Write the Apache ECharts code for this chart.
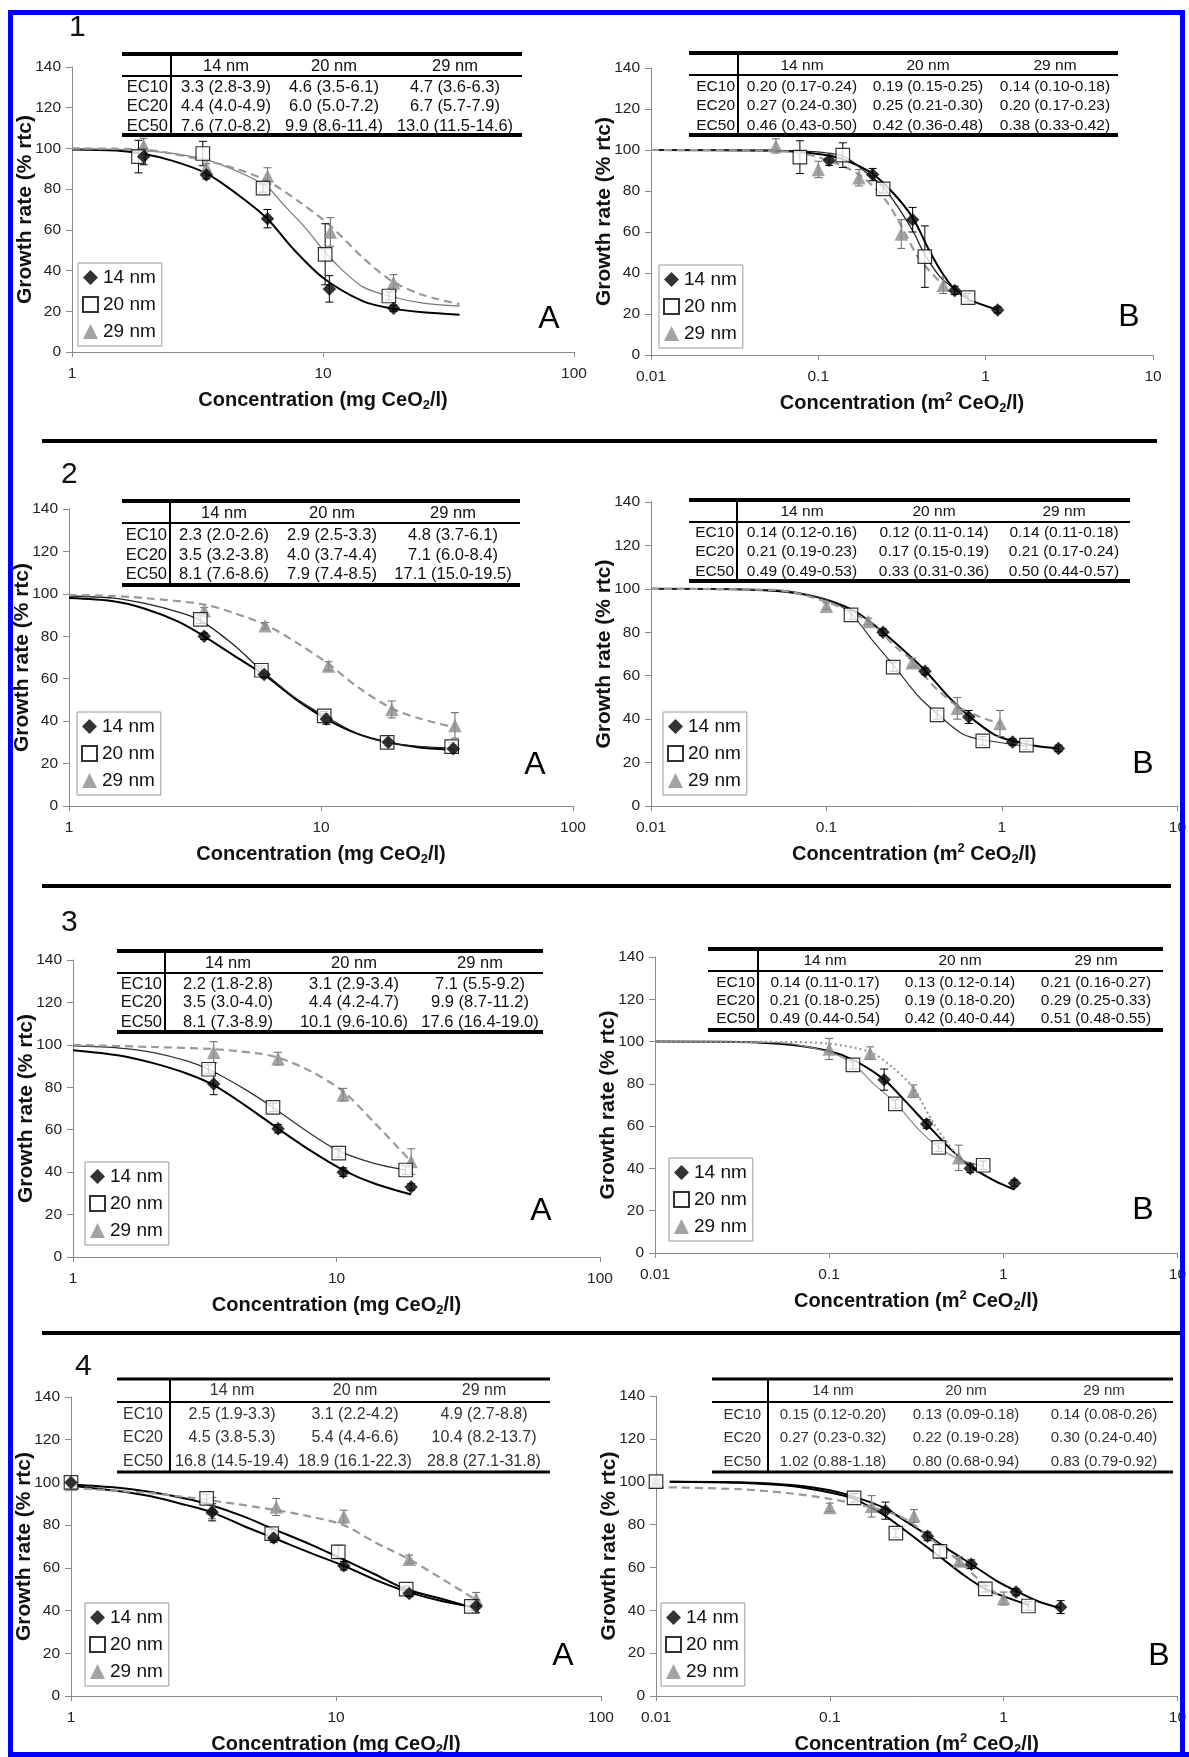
<!DOCTYPE html>
<html>
<head>
<meta charset="utf-8">
<script src="https://cdn.jsdelivr.net/npm/echarts@6.0.0/dist/echarts.min.js"></script>
<style>
html, body { margin: 0; padding: 0; background: #fff; }
#main { width: 1189px; height: 1757px; }
</style>
</head>
<body>
<div id="main"></div>
<script>
var FONT = '"Liberation Sans", Arial, sans-serif';
var sizes = ['14 nm', '20 nm', '29 nm'];
var ecRows = ['EC10', 'EC20', 'EC50'];
var yTitle = 'Growth rate (% rtc)';
var nameMass = 'Concentration (mg CeO{s|2}/l)';
var nameArea = 'Concentration (m{p|2} CeO{s|2}/l)';

// ---- panel 1 (mass / surface) ----
var p1a14 = [[1.93, 96], [3.43, 87], [6.01, 65.5], [10.6, 31], [19.1, 21.5]];
var p1a14e = [4, 2, 4.5, 6.5, 1.5];
var p1a14f = [[1, 99.5], [1.5, 99], [1.9, 97.5], [2.5, 94], [3.4, 88], [4.5, 78], [6, 65.5], [7.5, 51.5], [10, 36.5], [14.4, 25], [19, 21.3], [25, 19.5], [35, 18.3]];
var p1a20 = [[1.84, 96], [3.32, 97.5], [5.77, 80.5], [10.2, 48], [18.3, 27.5]];
var p1a20e = [8, 6, 2, 15, 2];
var p1a20f = [[1, 99.8], [1.9, 99], [3.3, 95], [4.5, 89], [6, 81], [7, 72], [8.5, 61], [10.2, 49], [12, 40], [14.4, 32], [18.3, 27.5], [25, 24], [35, 22.5]];
var p1a29 = [[1.93, 101.5], [3.43, 90.5], [6.01, 86.5], [10.7, 59], [19.1, 34]];
var p1a29e = [3.5, 2, 4, 7, 4];
var p1a29f = [[1, 100], [1.9, 99.5], [3.4, 94], [4.5, 90], [6, 84], [8, 74], [10.7, 62], [14.5, 46], [19, 34.5], [25, 28], [35, 23.5]];

var p1b14 = [[0.116, 95], [0.211, 88], [0.366, 66], [0.653, 31.5], [1.18, 22]];
var p1b14e = [2.5, 3, 6, 2, 1.5];
var p1b14f = [[0.01, 100], [0.05, 99.7], [0.1, 98], [0.14, 95.5], [0.21, 88.5], [0.28, 79], [0.366, 67], [0.46, 51], [0.55, 40], [0.653, 32], [0.8, 27], [1.18, 22]];
var p1b20 = [[0.0776, 96.5], [0.14, 97.5], [0.244, 81], [0.433, 48], [0.785, 28]];
var p1b20e = [8, 6, 2, 15, 2];
var p1b20f = [[0.01, 100], [0.0776, 99.5], [0.14, 97], [0.2, 88], [0.244, 82], [0.3, 72], [0.37, 60], [0.433, 49], [0.55, 37], [0.785, 28.5]];
var p1b29 = [[0.0558, 102], [0.1, 90.5], [0.175, 86.5], [0.313, 59], [0.558, 34]];
var p1b29e = [3.5, 4, 4, 7, 4];
var p1b29f = [[0.01, 100], [0.0558, 99.5], [0.1, 96.5], [0.175, 88], [0.25, 76], [0.313, 63], [0.4, 47], [0.558, 34]];

// ---- panel 2 ----
var p2a14 = [[3.44, 80], [5.95, 62], [10.5, 41], [18.5, 30], [33.5, 27]];
var p2a14e = [1.5, 1.5, 2.5, 1.5, 2];
var p2a14f = [[1, 98], [1.5, 96.5], [2, 93], [2.7, 87], [3.44, 80], [4.5, 71], [6, 61.5], [8, 50], [10.5, 41], [14, 34], [18.5, 30], [25, 27.5], [34, 26.5]];
var p2a20 = [[3.32, 88], [5.8, 64], [10.3, 42.5], [18.3, 30], [33, 28]];
var p2a20e = [2, 2, 2, 2, 2];
var p2a20f = [[1, 99], [1.5, 98], [2, 95.5], [2.7, 91.5], [3.32, 87.5], [4.5, 76], [5.8, 64], [8, 50.5], [10.3, 42.5], [14, 34], [18.3, 30], [25, 28], [33, 27.5]];
var p2a29 = [[3.44, 92], [6.0, 85], [10.7, 66], [19.1, 45.5], [34, 38]];
var p2a29e = [1.5, 1.5, 2, 4, 6];
var p2a29f = [[1, 99.5], [1.5, 99], [2, 98], [3.44, 95], [4.5, 91], [6, 85.5], [8, 77], [10.7, 67], [14, 56], [19.1, 46], [25, 41], [34, 37]];

var p2b14 = [[0.21, 80], [0.364, 62], [0.647, 41], [1.15, 29.5], [2.1, 26.5]];
var p2b14e = [1.5, 1.5, 3, 1.5, 1.5];
var p2b14f = [[0.01, 100], [0.03, 99.8], [0.06, 98.5], [0.1, 95], [0.15, 89], [0.21, 80], [0.3, 69], [0.364, 62.5], [0.5, 50], [0.647, 41.5], [0.9, 33], [1.15, 30], [1.6, 27.5], [2.1, 26.5]];
var p2b20 = [[0.138, 88], [0.24, 64], [0.427, 42], [0.778, 30], [1.38, 28]];
var p2b20e = [2, 2, 2, 2, 2];
var p2b20f = [[0.01, 100], [0.05, 99.5], [0.1, 95], [0.138, 88.5], [0.18, 77], [0.24, 65], [0.33, 51], [0.427, 42.5], [0.6, 33], [0.778, 30.5], [1.38, 27.5]];
var p2b29 = [[0.1, 92], [0.173, 85], [0.308, 66], [0.557, 45], [0.975, 38]];
var p2b29e = [1.5, 1.5, 2, 5, 6];
var p2b29f = [[0.01, 100], [0.05, 99.5], [0.1, 94], [0.173, 85], [0.25, 73], [0.308, 67], [0.4, 56], [0.557, 46], [0.75, 41], [0.975, 38]];

// ---- panel 3 ----
var p3a14 = [[3.42, 81.5], [6.0, 60.5], [10.6, 40], [19.2, 33]];
var p3a14e = [5, 2, 2, 1.5];
var p3a14f = [[1, 97.5], [1.5, 95], [2, 91.5], [2.7, 86.5], [3.42, 81], [4.5, 71.5], [6, 60.5], [8, 50], [10.6, 41], [14, 34.5], [19.2, 29.5]];
var p3a20 = [[3.27, 88.5], [5.74, 70.5], [10.2, 49], [18.3, 41]];
var p3a20e = [2, 2, 2, 2];
var p3a20f = [[1, 99.5], [1.5, 98.5], [2, 96.5], [2.7, 92.5], [3.27, 88.5], [4.5, 79], [5.74, 70.5], [8, 58], [10.2, 50], [14, 44], [18.3, 41]];
var p3a29 = [[3.42, 96.5], [6.0, 93.5], [10.6, 76.5], [19.2, 45]];
var p3a29e = [5, 3, 3, 6];
var p3a29f = [[1, 100], [2, 99], [3.42, 98], [5, 96], [6, 94], [8, 87.5], [10.6, 78], [14, 63], [19.2, 45]];

var p3b14 = [[0.207, 82], [0.363, 61], [0.646, 40], [1.16, 33]];
var p3b14e = [5, 2, 2, 1.5];
var p3b14f = [[0.01, 100], [0.03, 99.8], [0.06, 98.5], [0.1, 95.5], [0.14, 91], [0.207, 82], [0.28, 71], [0.363, 61], [0.5, 49], [0.646, 41], [0.9, 34], [1.16, 30]];
var p3b20 = [[0.137, 89], [0.24, 70.5], [0.426, 50], [0.767, 41.5]];
var p3b20e = [2, 2, 2, 2];
var p3b20f = [[0.01, 100], [0.05, 99.5], [0.1, 95], [0.137, 89.5], [0.18, 80], [0.24, 71], [0.33, 58], [0.426, 50], [0.55, 44.5], [0.767, 41]];
var p3b29 = [[0.1, 96.5], [0.172, 94.5], [0.305, 76.5], [0.555, 45]];
var p3b29e = [5, 3, 3, 6];
var p3b29f = [[0.01, 100], [0.05, 99.8], [0.1, 99], [0.172, 95], [0.23, 88], [0.305, 78], [0.4, 61], [0.555, 45]];

// ---- panel 4 ----
var p4a14 = [[1, 100], [3.41, 86], [5.82, 74], [10.7, 61], [18.9, 48], [33.8, 42]];
var p4a14e = [1, 4, 2, 2, 1.5, 3];
var p4a14f = [[1, 98.5], [1.5, 96], [2, 93.5], [2.7, 89.5], [3.41, 86], [4.5, 79.5], [5.82, 74], [8, 67], [10.7, 61], [14, 54.5], [18.9, 48.5], [25, 44.5], [33.8, 41.5]];
var p4a20 = [[1, 100], [3.25, 92.5], [5.72, 76], [10.2, 67.5], [18.4, 50], [32.4, 42]];
var p4a20e = [1, 2, 2, 3, 1.5, 2];
var p4a20f = [[1, 99], [1.5, 97.5], [2, 95.5], [2.7, 92.5], [3.25, 90], [4.5, 84], [5.72, 78.5], [8, 71], [10.2, 65], [14, 57], [18.4, 50], [25, 45.5], [32.4, 41.5]];
var p4a29 = [[1, 99], [3.41, 88], [5.95, 88.5], [10.7, 84], [18.9, 64], [33.8, 45.5]];
var p4a29e = [1, 5, 4, 3, 2, 3];
var p4a29f = [[1, 97.5], [1.5, 96], [2, 95], [3.41, 91.5], [5.95, 87], [8, 84], [10.7, 80], [14, 72], [18.9, 64], [25, 55], [33.8, 45]];

var p4b14 = [[0.209, 86.5], [0.365, 74.5], [0.652, 61.5], [1.18, 48.5], [2.13, 41.5]];
var p4b14e = [4, 2, 2, 1.5, 3];
var p4b14f = [[0.012, 100], [0.03, 99.8], [0.06, 98.5], [0.1, 96], [0.15, 92], [0.209, 87.5], [0.28, 81], [0.365, 75], [0.5, 67.5], [0.652, 61.5], [0.9, 54], [1.18, 49], [1.6, 44], [2.13, 41]];
var p4b20 = [[0.01, 100], [0.138, 92.5], [0.24, 76], [0.43, 67.5], [0.785, 50], [1.39, 42]];
var p4b20e = [1, 2, 2, 3, 1.5, 2];
var p4b20f = [[0.012, 100], [0.03, 99.5], [0.06, 98], [0.1, 95], [0.138, 92], [0.2, 85], [0.24, 80.5], [0.33, 72], [0.43, 65], [0.6, 56], [0.785, 50], [1.0, 46.5], [1.39, 42.5]];
var p4b29 = [[0.01, 100], [0.1, 88], [0.174, 88.5], [0.305, 84], [0.555, 63], [1.0, 45.5]];
var p4b29e = [1, 2, 5, 3, 2, 3];
var p4b29f = [[0.01, 97.5], [0.03, 96.5], [0.06, 94.5], [0.1, 92], [0.174, 88], [0.25, 84], [0.305, 80], [0.4, 72], [0.555, 63], [0.75, 53], [1.0, 45.5]];

// ---- EC tables ----
var tab1a = [['3.3 (2.8-3.9)', '4.6 (3.5-6.1)', '4.7 (3.6-6.3)'], ['4.4 (4.0-4.9)', '6.0 (5.0-7.2)', '6.7 (5.7-7.9)'], ['7.6 (7.0-8.2)', '9.9 (8.6-11.4)', '13.0 (11.5-14.6)']];
var tab1b = [['0.20 (0.17-0.24)', '0.19 (0.15-0.25)', '0.14 (0.10-0.18)'], ['0.27 (0.24-0.30)', '0.25 (0.21-0.30)', '0.20 (0.17-0.23)'], ['0.46 (0.43-0.50)', '0.42 (0.36-0.48)', '0.38 (0.33-0.42)']];
var tab2a = [['2.3 (2.0-2.6)', '2.9 (2.5-3.3)', '4.8 (3.7-6.1)'], ['3.5 (3.2-3.8)', '4.0 (3.7-4.4)', '7.1 (6.0-8.4)'], ['8.1 (7.6-8.6)', '7.9 (7.4-8.5)', '17.1 (15.0-19.5)']];
var tab2b = [['0.14 (0.12-0.16)', '0.12 (0.11-0.14)', '0.14 (0.11-0.18)'], ['0.21 (0.19-0.23)', '0.17 (0.15-0.19)', '0.21 (0.17-0.24)'], ['0.49 (0.49-0.53)', '0.33 (0.31-0.36)', '0.50 (0.44-0.57)']];
var tab3a = [['2.2 (1.8-2.8)', '3.1 (2.9-3.4)', '7.1 (5.5-9.2)'], ['3.5 (3.0-4.0)', '4.4 (4.2-4.7)', '9.9 (8.7-11.2)'], ['8.1 (7.3-8.9)', '10.1 (9.6-10.6)', '17.6 (16.4-19.0)']];
var tab3b = [['0.14 (0.11-0.17)', '0.13 (0.12-0.14)', '0.21 (0.16-0.27)'], ['0.21 (0.18-0.25)', '0.19 (0.18-0.20)', '0.29 (0.25-0.33)'], ['0.49 (0.44-0.54)', '0.42 (0.40-0.44)', '0.51 (0.48-0.55)']];
var tab4a = [['2.5 (1.9-3.3)', '3.1 (2.2-4.2)', '4.9 (2.7-8.8)'], ['4.5 (3.8-5.3)', '5.4 (4.4-6.6)', '10.4 (8.2-13.7)'], ['16.8 (14.5-19.4)', '18.9 (16.1-22.3)', '28.8 (27.1-31.8)']];
var tab4b = [['0.15 (0.12-0.20)', '0.13 (0.09-0.18)', '0.14 (0.08-0.26)'], ['0.27 (0.23-0.32)', '0.22 (0.19-0.28)', '0.30 (0.24-0.40)'], ['1.02 (0.88-1.18)', '0.80 (0.68-0.94)', '0.83 (0.79-0.92)']];

var panels = [
  {area: false, pts: [p1a14, p1a20, p1a29], err: [p1a14e, p1a20e, p1a29e], fit: [p1a14f, p1a20f, p1a29f], tab: tab1a},
  {area: true, pts: [p1b14, p1b20, p1b29], err: [p1b14e, p1b20e, p1b29e], fit: [p1b14f, p1b20f, p1b29f], tab: tab1b},
  {area: false, pts: [p2a14, p2a20, p2a29], err: [p2a14e, p2a20e, p2a29e], fit: [p2a14f, p2a20f, p2a29f], tab: tab2a},
  {area: true, pts: [p2b14, p2b20, p2b29], err: [p2b14e, p2b20e, p2b29e], fit: [p2b14f, p2b20f, p2b29f], tab: tab2b},
  {area: false, pts: [p3a14, p3a20, p3a29], err: [p3a14e, p3a20e, p3a29e], fit: [p3a14f, p3a20f, p3a29f], tab: tab3a},
  {area: true, pts: [p3b14, p3b20, p3b29], err: [p3b14e, p3b20e, p3b29e], fit: [p3b14f, p3b20f, p3b29f], tab: tab3b},
  {area: false, pts: [p4a14, p4a20, p4a29], err: [p4a14e, p4a20e, p4a29e], fit: [p4a14f, p4a20f, p4a29f], tab: tab4a},
  {area: true, pts: [p4b14, p4b20, p4b29], err: [p4b14e, p4b20e, p4b29e], fit: [p4b14f, p4b20f, p4b29f], tab: tab4b}
];

// layout of each panel: grid [left, top, width, height], legend box, letter, table geometry
var layout = [
  {grid: [72, 67, 502, 285], leg: [78, 263], letter: ['A', 549, 319], num: ['1', 69, 28],
   tb: {x0: 122, x1: 522, dv: 171, top: 54, hd: 76, bt: 135, ty: [66, 87, 106, 126], cx: [226, 334, 455], fs: 16.5},
   fit20: ['#777', 1.2], fit29: 'dashed'},
  {grid: [651, 68, 502, 287], leg: [659, 265], letter: ['B', 1129, 317],
   tb: {x0: 689, x1: 1118, dv: 738, top: 53, hd: 75, bt: 135, ty: [66, 87, 106, 126], cx: [802, 928, 1055], fs: 15.5},
   fit20: ['#222', 1.3], fit29: 'dashed'},
  {grid: [69, 509, 504, 297], leg: [77, 712], letter: ['A', 535, 765], num: ['2', 61, 475],
   tb: {x0: 122, x1: 520, dv: 170, top: 501, hd: 523, bt: 585, ty: [513, 535, 555, 574], cx: [224, 332, 453], fs: 16.5},
   fit20: ['#222', 1.3], fit29: 'dashed'},
  {grid: [651, 502, 527, 304], leg: [663, 712], letter: ['B', 1143, 764],
   tb: {x0: 689, x1: 1130, dv: 737, top: 500, hd: 522, bt: 581, ty: [512, 533, 552, 572], cx: [802, 934, 1064], fs: 15.5},
   fit20: ['#333', 1.2], fit29: 'dashed'},
  {grid: [73, 960, 527, 297], leg: [85, 1162], letter: ['A', 541, 1211], num: ['3', 61, 923],
   tb: {x0: 117, x1: 543, dv: 165, top: 951, hd: 973, bt: 1032, ty: [963, 984, 1002, 1022], cx: [228, 354, 480], fs: 16.5},
   fit20: ['#333', 1.3], fit29: 'dashed'},
  {grid: [655, 957, 530, 296], leg: [669, 1158], letter: ['B', 1143, 1210],
   tb: {x0: 708, x1: 1163, dv: 758, top: 949, hd: 971, bt: 1030, ty: [961, 983, 1001, 1019], cx: [825, 960, 1096], fs: 15.5},
   fit20: ['#888', 1.2], fit29: 'dotted'},
  {grid: [71, 1397, 530, 303], leg: [85, 1603], letter: ['A', 563, 1656], num: ['4', 75, 1367],
   tb: {x0: 117, x1: 550, dv: 170, top: 1379, hd: 1402, bt: 1472, ty: [1391, 1415, 1438, 1462], cx: [232, 355, 484], fs: 16, light: true},
   fit20: ['#000', 2], fit29: 'dashed'},
  {grid: [656, 1396, 522, 304], leg: [661, 1603], letter: ['B', 1159, 1656],
   tb: {x0: 712, x1: 1173, dv: 768, top: 1379, hd: 1402, bt: 1472, ty: [1391, 1415, 1438, 1462], cx: [833, 966, 1104], fs: 15, light: true},
   fit20: ['#000', 2], fit29: 'dashed'}
];

var symbols = ['diamond', 'rect', 'triangle'];
var markerStyle = [
  {color: '#000'},
  {color: '#fff', borderColor: '#000', borderWidth: 1.2},
  {color: '#8c8c8c'}
];
var errColor = ['#000', '#000', '#666'];

function fmtLog(v) {
  return String(+(+v).toPrecision(2));
}

function errRender(color) {
  return function (params, api) {
    var x = api.value(0);
    var hi = api.coord([x, api.value(2)]);
    var lo = api.coord([x, api.value(1)]);
    var c = 4;
    var st = {stroke: color, lineWidth: 1};
    return {
      type: 'group',
      children: [
        {type: 'line', shape: {x1: hi[0], y1: hi[1], x2: lo[0], y2: lo[1]}, style: st},
        {type: 'line', shape: {x1: hi[0] - c, y1: hi[1], x2: hi[0] + c, y2: hi[1]}, style: st},
        {type: 'line', shape: {x1: lo[0] - c, y1: lo[1], x2: lo[0] + c, y2: lo[1]}, style: st}
      ]
    };
  };
}

function txt(s, x, y, size, align, color) {
  return {
    type: 'text', x: x, y: y, z: 10,
    style: {
      text: s, font: size + 'px ' + FONT, fill: color || '#111',
      textAlign: align || 'center', textVerticalAlign: 'middle',
      align: align || 'center', verticalAlign: 'middle'
    }
  };
}

function bar(x, y, w, h, color) {
  return {type: 'rect', z: 10, shape: {x: x, y: y, width: w, height: h}, style: {fill: color || '#000'}};
}

var grids = [], xAxes = [], yAxes = [], series = [], legends = [], graphics = [];
var axisGray = '#8a8a8a';

panels.forEach(function (p, i) {
  var L = layout[i];
  grids.push({left: L.grid[0], top: L.grid[1], width: L.grid[2], height: L.grid[3]});

  xAxes.push({
    type: 'log', logBase: 10, gridIndex: i,
    min: p.area ? 0.01 : 1, max: p.area ? 10 : 100,
    name: p.area ? nameArea : nameMass, nameLocation: 'middle', nameGap: 36, nameMoveOverlap: false,
    nameTextStyle: {
      fontFamily: FONT, fontSize: 20, fontWeight: 'bold', color: '#111', lineHeight: 24,
      rich: {
        s: {fontFamily: FONT, fontSize: 13, fontWeight: 'bold', color: '#111', verticalAlign: 'bottom', lineHeight: 13},
        p: {fontFamily: FONT, fontSize: 13, fontWeight: 'bold', color: '#111', verticalAlign: 'top', lineHeight: 13}
      }
    },
    axisLine: {show: true, onZero: false, lineStyle: {color: axisGray, width: 1}},
    axisTick: {show: true, length: 5, lineStyle: {color: axisGray}},
    minorTick: {show: false},
    axisLabel: {margin: 14, fontFamily: FONT, fontSize: 15.5, color: '#222', formatter: fmtLog},
    splitLine: {show: false}
  });

  yAxes.push({
    type: 'value', gridIndex: i, min: 0, max: 140, interval: 20,
    name: yTitle, nameLocation: 'middle', nameGap: 36, nameRotate: 90, nameMoveOverlap: false,
    nameTextStyle: {fontFamily: FONT, fontSize: 21, fontWeight: 'bold', color: '#111'},
    axisLine: {show: true, lineStyle: {color: axisGray, width: 1}},
    axisTick: {show: true, length: 6, lineStyle: {color: axisGray}},
    axisLabel: {margin: 11, fontFamily: FONT, fontSize: 15.5, color: '#222'},
    splitLine: {show: false}
  });

  // fitted curves
  var fitStyles = [
    {color: '#000', width: 2, type: 'solid'},
    {color: L.fit20[0], width: L.fit20[1], type: 'solid'},
    {color: '#999', width: 2.2, type: L.fit29 === 'dotted' ? [2, 3] : [8, 5]}
  ];
  for (var k = 0; k < 3; k++) {
    series.push({
      name: sizes[k] + ' fit', type: 'line', xAxisIndex: i, yAxisIndex: i,
      data: p.fit[k], smooth: 0.3, symbol: 'none', silent: true, z: 2,
      lineStyle: fitStyles[k]
    });
  }
  // error bars
  for (k = 0; k < 3; k++) {
    var pts = p.pts[k], e = p.err[k];
    series.push({
      name: sizes[k] + ' err', type: 'custom', xAxisIndex: i, yAxisIndex: i, z: 3, silent: true,
      renderItem: errRender(errColor[k]),
      encode: {x: 0, y: [1, 2]},
      data: pts.map(function (pt, j) { return [pt[0], pt[1] - e[j], pt[1] + e[j]]; })
    });
  }
  // points
  [2, 1, 0].forEach(function (k) {
    series.push({
      name: sizes[k], type: 'scatter', xAxisIndex: i, yAxisIndex: i, z: 4,
      symbol: symbols[k], symbolSize: 13.5,
      itemStyle: markerStyle[k],
      data: p.pts[k]
    });
  });

  legends.push({
    left: L.leg[0], top: L.leg[1], orient: 'vertical',
    data: sizes, selectedMode: false,
    itemWidth: 15, itemHeight: 15, itemGap: 8,
    padding: [5, 6, 5, 4],
    borderColor: '#9a9a9a', borderWidth: 1, backgroundColor: '#fff', borderRadius: 0,
    textStyle: {fontFamily: FONT, fontSize: 19, color: '#111'}
  });

  // panel letter and number
  graphics.push(txt(L.letter[0], L.letter[1], L.letter[2], 32, 'center', '#000'));
  if (L.num) graphics.push(txt(L.num[0], L.num[1], L.num[2], 30, 'left', '#111'));

  // EC table
  var t = L.tb;
  var thick = t.light ? 3 : 4;
  var tcol = t.light ? '#333' : '#111';
  graphics.push(bar(t.x0, t.top - thick / 2, t.x1 - t.x0, thick));
  graphics.push(bar(t.x0, t.hd - 1, t.x1 - t.x0, 2));
  graphics.push(bar(t.x0, t.bt - thick / 2, t.x1 - t.x0, thick));
  graphics.push(bar(t.dv - 1, t.top, 2, t.bt - t.top));
  sizes.forEach(function (s, c) {
    graphics.push(txt(s, t.cx[c], t.ty[0], t.fs, 'center', tcol));
  });
  ecRows.forEach(function (r, ri) {
    graphics.push(txt(r, t.dv - (t.light ? 7 : 3), t.ty[ri + 1], t.fs, 'right', tcol));
    p.tab[ri].forEach(function (v, c) {
      graphics.push(txt(v, t.cx[c], t.ty[ri + 1], t.fs, 'center', tcol));
    });
  });
});

// row separators
graphics.push(bar(42, 439, 1115, 4));
graphics.push(bar(42, 884, 1129, 4));
graphics.push(bar(42, 1331, 1139, 4));

// blue frame
var blue = '#0000ff';
[[8, 10, 1177, 5], [8, 10, 5, 1747], [1180, 10, 5, 1747], [8, 1752, 1181, 5]].forEach(function (r) {
  var b = bar(r[0], r[1], r[2], r[3], blue);
  b.z = 100;
  graphics.push(b);
});

var chart = echarts.init(document.getElementById('main'), null, {renderer: 'canvas'});
chart.setOption({
  animation: false,
  backgroundColor: '#fff',
  textStyle: {fontFamily: FONT},
  grid: grids,
  xAxis: xAxes,
  yAxis: yAxes,
  legend: legends,
  series: series,
  graphic: {elements: graphics}
});
</script>
</body>
</html>
